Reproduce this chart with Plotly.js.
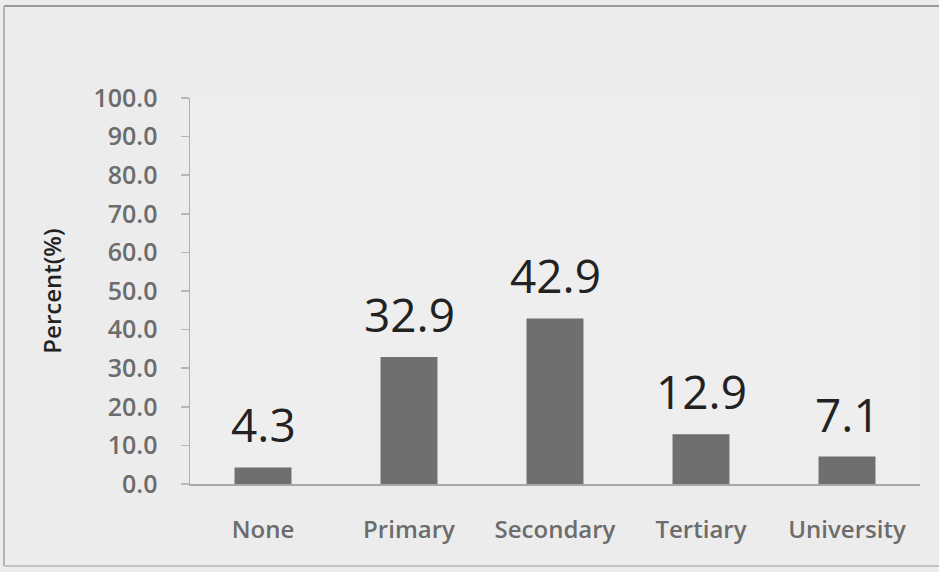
<!DOCTYPE html>
<html>
<head>
<meta charset="utf-8">
<script src="https://cdn.plot.ly/plotly-3.0.1.min.js"></script>
<style>
  html, body { margin: 0; padding: 0; background: #ececec; }
  #chart { width: 939px; height: 572px; }
</style>
</head>
<body>
<div id="chart"></div>
<script>
// Education level of respondents (percent)
const categories = ["None", "Primary", "Secondary", "Tertiary", "University"];
const percents = [4.3, 32.9, 42.9, 12.9, 7.1];
const yTickValues = [0, 10, 20, 30, 40, 50, 60, 70, 80, 90, 100];
const yTickLabels = yTickValues.map(v => v.toFixed(1));

const W = 939, H = 572;
const margin = { l: 190, r: 19, t: 98, b: 88 };
const plotW = W - margin.l - margin.r;
const plotH = H - margin.t - margin.b;

// pixel -> paper helpers for the outer frame lines
const px = x => (x - margin.l) / plotW;
const py = y => 1 - (y - margin.t) / plotH;

const bars = {
  type: "bar",
  x: categories,
  y: percents,
  marker: { color: "#6f6f6f", line: { width: 0 } },
  hoverinfo: "x+y"
};

const valueLabels = categories.map((c, i) => ({
  x: c,
  y: percents[i],
  xref: "x",
  yref: "y",
  text: percents[i].toFixed(1),
  showarrow: false,
  yanchor: "bottom",
  yshift: 10,
  font: { family: "Open Sans", size: 46, color: "#222222" }
}));

const frameColor = "#b3b3b3";
const layout = {
  width: W,
  height: H,
  margin: margin,
  paper_bgcolor: "#ececec",
  plot_bgcolor: "#eeeeee",
  showlegend: false,
  bargap: 0.61,
  xaxis: {
    type: "category",
    showgrid: false,
    zeroline: false,
    showline: true,
    linecolor: "#a8a8a8",
    linewidth: 1.5,
    ticks: "",
    ticklabelstandoff: 24,
    tickfont: { family: "Open Sans", size: 24, color: "#6c6c6c", weight: 600 },
    fixedrange: true
  },
  yaxis: {
    range: [0, 100],
    tickvals: yTickValues,
    ticktext: yTickLabels,
    showgrid: false,
    zeroline: false,
    showline: true,
    linecolor: "#b0b0b0",
    linewidth: 1.5,
    ticks: "outside",
    ticklen: 8,
    tickwidth: 1.5,
    tickcolor: "#b8b8b8",
    ticklabelstandoff: 18,
    tickfont: { family: "Open Sans", size: 25, color: "#6c6c6c", weight: 600 },
    title: {
      text: "Percent(%)",
      standoff: 25,
      font: { family: "Open Sans", size: 24, color: "#222222", weight: 600 }
    },
    automargin: false,
    fixedrange: true
  },
  annotations: valueLabels,
  shapes: [
    { type: "line", xref: "paper", yref: "paper", x0: px(4), x1: px(W), y0: py(6), y1: py(6),
      line: { color: "#9a9a9a", width: 2 } },
    { type: "line", xref: "paper", yref: "paper", x0: px(4), x1: px(4), y0: py(6), y1: py(566),
      line: { color: frameColor, width: 2 } },
    { type: "line", xref: "paper", yref: "paper", x0: px(4), x1: px(W), y0: py(566), y1: py(566),
      line: { color: "#c4c4c4", width: 2 } }
  ]
};

Plotly.newPlot("chart", [bars], layout, { displayModeBar: false, staticPlot: true });
</script>
</body>
</html>
